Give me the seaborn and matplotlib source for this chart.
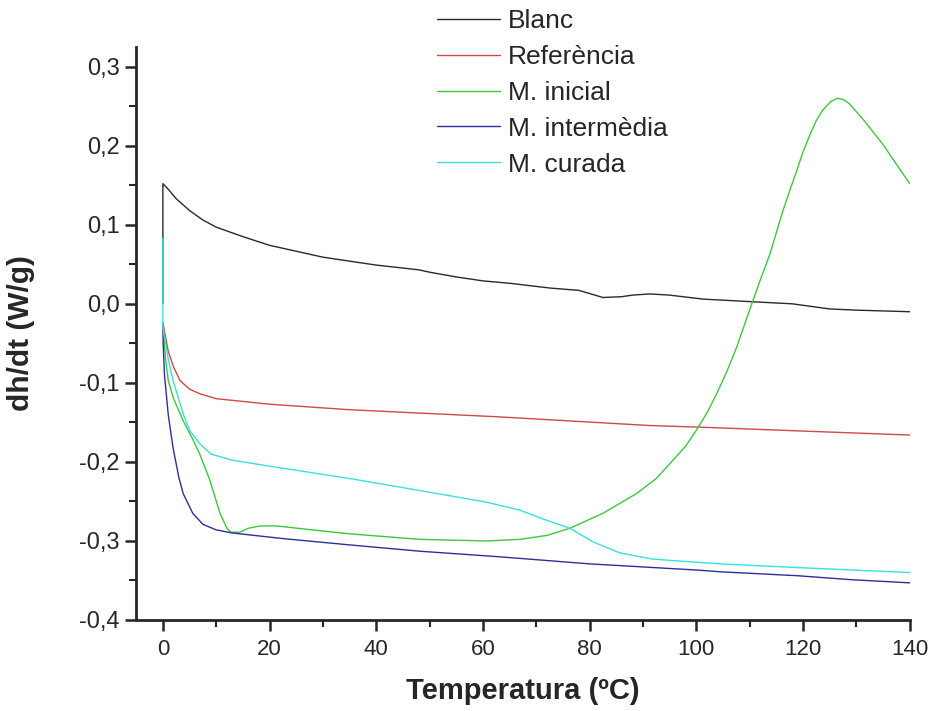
# Import libraries
import seaborn as sns
import matplotlib.pyplot as plt
from matplotlib.ticker import MultipleLocator, FuncFormatter

# Data (temperature in ºC, dh/dt in W/g)
blanc_t = [0, 0, 1, 2.5, 5, 7.5, 10, 15, 20, 30, 40, 48, 50, 55, 60, 65, 72.5, 78, 80,
           82.5, 86, 88, 91.3, 95, 101.2, 110, 118, 125, 130, 140]
blanc_v = [0.0, 0.152, 0.145, 0.133, 0.118, 0.106, 0.097, 0.085, 0.074, 0.059, 0.049,
           0.043, 0.040, 0.034, 0.029, 0.026, 0.020, 0.017, 0.013, 0.008, 0.009, 0.011,
           0.0125, 0.011, 0.006, 0.0028, 0.0, -0.0065, -0.008, -0.010]

ref_t = [0, 1, 2, 3.2, 5, 7, 10, 20, 35, 63, 91.3, 100.6, 120, 140]
ref_v = [-0.024, -0.06, -0.08, -0.097, -0.108, -0.114, -0.12, -0.127, -0.134,
         -0.143, -0.154, -0.156, -0.161, -0.166]

inicial_t = [0, 0.5, 1, 2, 3.8, 5.5, 6.9, 8.8, 10.7, 12, 12.8, 14.4, 16, 18.2, 21.3,
             28, 35, 48.2, 60.7, 66.9, 72, 76.3, 82.5, 88.8, 92.5, 95.6, 98, 100, 102,
             103.8, 105.7, 107.5, 109, 110.6, 112.2, 113.8, 115, 116.2, 117.5, 118.8,
             120, 121.3, 122.5, 123.7, 125.2, 126.5, 127.7, 128.7, 131.2, 135, 140]
inicial_v = [-0.025, -0.07, -0.097, -0.12, -0.148, -0.17, -0.19, -0.223, -0.265,
             -0.284, -0.289, -0.289, -0.284, -0.281, -0.281, -0.286, -0.291, -0.298,
             -0.300, -0.298, -0.293, -0.284, -0.265, -0.24, -0.221, -0.198, -0.18,
             -0.16, -0.138, -0.114, -0.086, -0.056, -0.027, 0.004, 0.034, 0.063, 0.09,
             0.117, 0.143, 0.168, 0.192, 0.214, 0.232, 0.245, 0.256, 0.26, 0.258,
             0.253, 0.234, 0.2016, 0.152]

interm_t = [0, 0.05, 0.3, 1, 1.9, 3, 3.8, 5.6, 7.5, 10, 13.1, 22.5, 35, 48.2, 63, 80,
            100.6, 104.4, 119, 129, 140]
interm_v = [-0.025, -0.05, -0.09, -0.14, -0.182, -0.22, -0.24, -0.265, -0.279, -0.286,
            -0.29, -0.297, -0.305, -0.313, -0.320, -0.329, -0.337, -0.339, -0.344,
            -0.349, -0.353]

curada_t = [0, 0, 1, 1.9, 3.8, 5, 6.9, 9, 13.1, 22.5, 35, 48, 60.7, 66.9, 72, 76.3,
            80.6, 85.6, 91.8, 104.4, 120, 140]
curada_v = [0.083, -0.03, -0.07, -0.097, -0.139, -0.16, -0.177, -0.19, -0.198, -0.208,
            -0.221, -0.236, -0.251, -0.261, -0.274, -0.284, -0.301, -0.315, -0.323,
            -0.329, -0.334, -0.34]

series = [
    ('Blanc', blanc_t, blanc_v, '#2a2a2a'),
    ('Referència', ref_t, ref_v, '#d04848'),
    ('M. inicial', inicial_t, inicial_v, '#3cc83c'),
    ('M. intermèdia', interm_t, interm_v, '#2e2e9a'),
    ('M. curada', curada_t, curada_v, '#38e0e0'),
]

sns.set_style('ticks')
plt.rcParams['font.family'] = ['Liberation Sans', 'DejaVu Sans']

fig = plt.figure(figsize=(9.33, 7.11), dpi=100)
ax = fig.add_axes([0.146, 0.128, 0.829, 0.806])

# Plot each curve
for name, t, v, c in series:
    sns.lineplot(x=t, y=v, label=name, color=c, linewidth=1.0,
                 estimator=None, sort=False, ax=ax)

ax.set_xlim(-5, 140)
ax.set_ylim(-0.4, 0.325)

ax.xaxis.set_major_locator(MultipleLocator(20))
ax.xaxis.set_minor_locator(MultipleLocator(10))
ax.yaxis.set_major_locator(MultipleLocator(0.1))
ax.yaxis.set_minor_locator(MultipleLocator(0.05))
ax.yaxis.set_major_formatter(FuncFormatter(lambda v, p: f'{v:.1f}'.replace('.', ',').replace('-0,0', '0,0')))

sns.despine(ax=ax)
for s in ['left', 'bottom']:
    ax.spines[s].set_linewidth(2)
ax.tick_params(which='major', length=8, width=1.8, direction='out', pad=4)
ax.tick_params(axis='y', labelsize=17)
ax.tick_params(axis='x', labelsize=16, pad=6)
ax.tick_params(which='minor', length=5, width=1.5, direction='out')

# Axis labels
ax.set_xlabel('Temperatura (ºC)', fontsize=21, fontweight='bold', labelpad=12)
ax.set_ylabel('dh/dt (W/g)', fontsize=21.5, fontweight='bold', labelpad=32)

# Legend at the top, without frame
ax.legend(loc='upper left', bbox_to_anchor=(437 / 933, 1 - 9 / 711),
          bbox_transform=fig.transFigure, frameon=False, fontsize=19,
          handlelength=2.4, handletextpad=0.3, labelspacing=0.45,
          borderpad=0, borderaxespad=0)

plt.savefig('out.png', dpi=100)
